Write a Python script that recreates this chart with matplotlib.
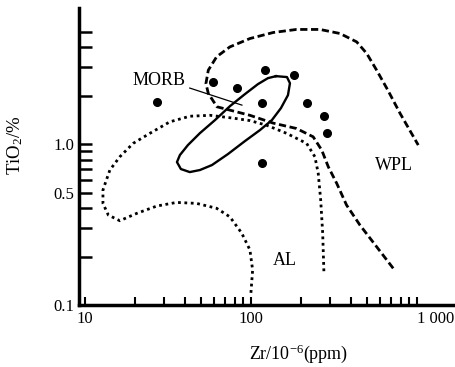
import matplotlib
matplotlib.use("Agg")
import matplotlib.pyplot as plt
from matplotlib.ticker import FixedLocator, FixedFormatter, NullFormatter

plt.rcParams['font.family'] = ['Liberation Serif', 'DejaVu Serif']
plt.rcParams['mathtext.fontset'] = 'custom'
plt.rcParams['mathtext.rm'] = 'Liberation Serif'
plt.rcParams['mathtext.it'] = 'Liberation Serif'

# Sample points (Zr ppm, TiO2 %)
sample_zr = [27.2, 59.6, 83.0, 121.9, 182.4, 116.5, 217.0, 277.0, 289.0, 116.5]
sample_ti = [1.83, 2.44, 2.22, 2.88, 2.68, 1.81, 1.81, 1.50, 1.166, 0.759]

# Arc lava (AL) field boundary - dotted
al_zr = [100.4, 102.8, 99.0, 88.3, 75.0, 62.4, 47.3, 35.8, 27.2, 20.6, 16.3, 13.9,
         12.9, 12.9, 13.2, 14.2, 16.3, 19.6, 24.7, 32.6, 43.0, 56.9, 78.5, 99.0,
         124.8, 164.8, 217.4, 243.8, 255.3, 264.2, 271.6, 276.4]
al_ti = [0.119, 0.165, 0.220, 0.280, 0.353, 0.399, 0.428, 0.434, 0.412, 0.371, 0.334, 0.362,
         0.428, 0.518, 0.556, 0.690, 0.834, 1.01, 1.166, 1.375, 1.49, 1.51, 1.45, 1.40,
         1.31, 1.166, 1.01, 0.834, 0.658, 0.449, 0.279, 0.157]

# Within-plate lava (WPL) field boundary - dashed
wpl_zr = [722, 574, 455, 378, 330, 293.5, 268, 238, 189, 136.8, 99, 75, 62.7, 55.6,
          53.8, 55.6, 62.4, 75, 99, 136.8, 189, 261.5, 345, 435, 500, 574, 671, 793, 1022]
wpl_ti = [0.169, 0.230, 0.314, 0.418, 0.570, 0.723, 0.918, 1.11, 1.25, 1.35, 1.51, 1.626,
          1.706, 2.065, 2.38, 2.88, 3.49, 4.02, 4.53, 4.94, 5.16, 5.16, 4.87, 4.32, 3.66,
          2.88, 2.16, 1.557, 0.986]

# MORB field - solid closed loop
morb_zr = [142.1, 165.5, 172.5, 167.8, 152.2, 134.3, 113.8, 92.4, 73.0, 58.5, 49.5, 43.0,
           38.0, 36.0, 37.5, 41.9, 49.5, 61.0, 75.0, 92.4, 110.7, 127.1, 142.1]
morb_ti = [2.645, 2.61, 2.39, 2.015, 1.673, 1.41, 1.222, 1.044, 0.867, 0.741, 0.690, 0.670,
           0.700, 0.773, 0.855, 0.986, 1.17, 1.41, 1.72, 2.045, 2.36, 2.57, 2.645]

x_major = [10, 100, 1000]
x_major_labels = ['10', '100', '1 000']
x_minor = [20, 30, 40, 50, 60, 70, 80, 90, 200, 300, 400, 500, 600, 700, 800, 900]
y_major = [0.1, 0.5, 1.0]
y_major_labels = ['0.1', '0.5', '1.0']
y_minor = [0.2, 0.3, 0.4, 0.6, 0.7, 0.8, 0.9, 2, 3, 4, 5]

fig = plt.figure(figsize=(4.56, 3.67), dpi=100)
ax = fig.add_axes([0.173, 0.169, 0.827, 0.808])
ax.set_xscale('log')
ax.set_yscale('log')
ax.set_xlim(9.24, 1725)
ax.set_ylim(0.1, 6.97)

# Field boundaries
ax.plot(al_zr, al_ti, color='black', lw=2.0, linestyle=(0, (1, 1.3)))
ax.plot(wpl_zr, wpl_ti, color='black', lw=2.0, linestyle=(0, (2.6, 1.3)))
ax.plot(morb_zr, morb_ti, color='black', lw=1.7, solid_joinstyle='round')

# Samples
ax.plot(sample_zr, sample_ti, 'o', color='black', ms=5.5, linestyle='none')

# Field labels
ax.text(28.0, 2.50, 'MORB', fontsize=13, ha='center', va='center')
ax.plot([43.0, 88.6], [2.23, 1.747], color='black', lw=0.9)
ax.text(729, 0.741, 'WPL', fontsize=13, ha='center', va='center')
ax.text(161, 0.190, 'AL', fontsize=13, ha='center', va='center')

# Axes styling
for side in ['top', 'right']:
    ax.spines[side].set_visible(False)
for side in ['left', 'bottom']:
    ax.spines[side].set_linewidth(2.5)

ax.xaxis.set_major_locator(FixedLocator(x_major))
ax.xaxis.set_major_formatter(FixedFormatter(x_major_labels))
ax.xaxis.set_minor_locator(FixedLocator(x_minor))
ax.xaxis.set_minor_formatter(NullFormatter())
ax.yaxis.set_major_locator(FixedLocator(y_major))
ax.yaxis.set_major_formatter(FixedFormatter(y_major_labels))
ax.yaxis.set_minor_locator(FixedLocator(y_minor))
ax.yaxis.set_minor_formatter(NullFormatter())

ax.tick_params(axis='x', which='both', direction='in', length=6, width=1.5, labelsize=12, pad=4)
ax.tick_params(axis='y', which='both', direction='in', length=9.5, width=1.8, labelsize=12, pad=3)
for lbl in ax.get_xticklabels():
    if lbl.get_text() == '1 000':
        lbl.set_horizontalalignment('left')

ax.set_xlabel('Zr/10$^{-6}$(ppm)', fontsize=13)
ax.xaxis.set_label_coords(0.584, -0.128)
ax.set_ylabel('TiO$_{2}$/%', fontsize=13.5)
ax.yaxis.set_label_coords(-0.143, 0.539)

fig.savefig('out.png', dpi=100)
